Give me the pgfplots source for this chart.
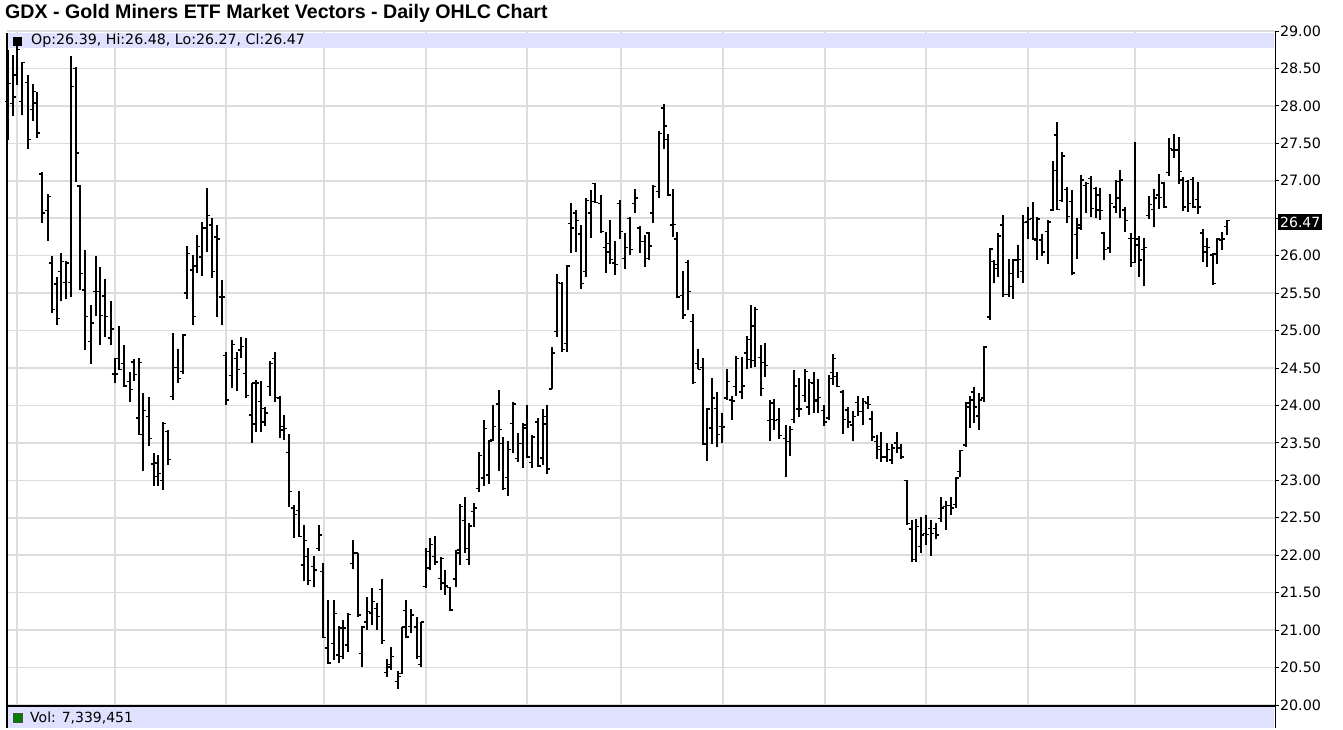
\documentclass[border=0pt]{standalone}
\usepackage{pgfplots}
\pgfplotsset{compat=1.18}
\usepackage{pgfplotstable}
\usepackage{fontspec}
\setmainfont{DejaVu Sans}
\newfontfamily\titlefont{Liberation Sans}
\definecolor{bandcol}{RGB}{224,224,255}
\definecolor{gridcol}{RGB}{221,221,221}
\definecolor{volgreen}{RGB}{0,128,0}

\pgfdeclareplotmark{ohlcopen}{%
  \pgfpathmoveto{\pgfqpoint{-3.4pt}{0pt}}%
  \pgfpathlineto{\pgfqpoint{0pt}{0pt}}%
  \pgfusepathqstroke}
\pgfdeclareplotmark{ohlcclose}{%
  \pgfpathmoveto{\pgfqpoint{0pt}{0pt}}%
  \pgfpathlineto{\pgfqpoint{3.4pt}{0pt}}%
  \pgfusepathqstroke}
\pgfdeclareplotmark{nothing}{}

% x = bar position (day slot), o h l c = open high low close
\pgfplotstableread{
x o h l c
8 28.06 28.75 27.54 28.30
13 28.03 28.68 27.86 28.12
17 28.41 28.81 28.28 28.75
22 28.06 28.59 27.88 28.58
28 28.31 28.41 27.42 27.55
33 27.95 28.29 27.80 28.19
37 28.04 28.19 27.57 27.64
42 27.09 27.12 26.44 26.57
48 26.60 26.83 26.20 26.79
52 25.90 26.00 25.23 25.28
57 25.62 25.72 25.08 25.16
61 25.79 26.03 25.39 25.92
66 25.64 25.93 25.42 25.90
71 25.64 28.66 25.45 28.26
76 28.50 28.52 26.98 27.37
80 26.93 26.94 25.54 25.76
85 25.54 26.07 24.74 25.19
91 24.85 25.34 24.56 25.10
96 25.52 26.00 25.19 25.52
100 25.52 25.85 24.81 25.20
105 25.46 25.69 24.92 25.19
111 24.90 25.39 24.81 25.02
115 24.42 24.64 24.30 24.42
119 24.63 25.06 24.47 24.48
124 24.56 24.81 24.24 24.26
130 24.32 24.45 24.04 24.21
134 24.58 24.62 24.33 24.41
139 23.83 24.64 23.61 24.57
143 23.61 24.16 23.12 23.93
149 23.85 24.11 23.46 23.56
154 23.22 23.36 22.92 23.05
158 23.23 23.34 22.92 23.09
163 23.00 23.78 22.87 23.76
168 23.65 23.67 23.21 23.28
173 24.12 24.97 24.07 24.51
178 24.51 24.76 24.30 24.36
183 24.45 24.96 24.42 24.94
187 25.50 26.13 25.42 26.03
193 25.81 26.01 25.07 25.19
197 25.86 26.28 25.77 26.12
202 25.98 26.45 25.73 26.37
207 26.37 26.91 26.05 26.54
212 26.41 26.50 25.70 25.79
217 26.25 26.41 25.18 26.22
222 25.45 25.68 25.07 25.45
226 24.67 24.72 24.01 24.07
232 24.40 24.87 24.23 24.81
237 24.63 24.71 24.19 24.48
241 24.74 24.91 24.64 24.79
246 24.43 24.90 24.10 24.13
252 23.87 24.30 23.50 24.30
256 23.75 24.34 23.65 24.30
261 24.05 24.32 23.65 23.78
265 23.96 23.98 23.73 23.90
270 24.25 24.59 24.12 24.56
275 24.63 24.71 24.04 24.11
280 24.10 24.13 23.56 23.67
284 23.72 23.87 23.54 23.69
289 23.37 23.62 22.65 22.85
294 22.63 22.67 22.23 22.54
299 22.60 22.86 22.24 22.25
304 21.87 22.40 21.65 22.20
308 21.98 22.09 21.60 21.66
314 21.85 21.99 21.58 21.80
319 22.09 22.40 22.05 22.27
323 21.78 21.89 20.89 20.90
328 20.76 21.40 20.55 20.56
334 20.82 21.40 20.60 21.22
339 20.67 21.05 20.56 21.03
343 20.65 21.13 20.61 21.03
348 20.80 21.23 20.71 21.21
353 21.89 22.20 21.81 22.03
358 22.03 22.03 21.18 21.20
362 20.69 21.06 20.51 21.04
367 21.11 21.44 21.00 21.25
372 21.23 21.56 21.07 21.38
377 21.29 21.36 21.00 21.18
382 21.54 21.68 20.82 20.86
387 20.43 20.62 20.38 20.51
391 20.54 20.78 20.47 20.65
398 20.31 20.45 20.22 20.38
402 20.42 21.04 20.42 21.04
406 21.26 21.40 20.89 20.91
411 21.05 21.28 20.96 21.20
417 21.04 21.18 20.62 20.65
421 20.54 21.11 20.51 21.11
426 21.58 22.09 21.56 22.05
430 21.83 22.23 21.80 22.14
435 21.98 22.25 21.87 21.91
441 21.69 21.98 21.53 21.96
445 21.63 21.80 21.47 21.59
450 21.57 21.58 21.26 21.27
456 21.68 22.07 21.57 22.03
460 22.07 22.68 21.87 22.65
465 22.46 22.78 22.03 22.09
469 21.94 22.43 21.87 22.39
474 22.58 22.70 22.38 22.63
479 22.89 23.38 22.85 23.33
484 23.03 23.81 22.92 23.69
489 23.07 23.54 22.95 23.52
493 23.54 24.01 23.52 23.72
499 24.02 24.21 23.12 23.68
503 23.49 23.58 22.87 22.89
508 23.04 23.52 22.79 23.41
513 23.76 24.04 23.36 24.02
518 23.29 23.63 23.25 23.49
523 23.49 23.76 23.17 23.74
527 23.70 24.01 23.30 23.31
532 23.24 23.61 23.16 23.58
538 23.78 23.83 23.18 23.19
543 23.30 23.95 23.20 23.85
547 23.75 24.00 23.08 23.15
552 24.22 24.78 24.22 24.70
557 24.99 25.76 24.92 25.64
562 25.63 25.65 24.72 24.75
567 24.83 25.88 24.72 25.86
571 26.43 26.70 26.04 26.37
576 26.57 26.61 26.05 26.47
581 26.29 26.41 25.56 25.63
586 25.79 26.77 25.71 26.74
591 26.57 26.88 26.23 26.72
595 26.96 26.97 26.70 26.71
601 26.70 26.81 26.30 26.32
606 26.11 26.32 25.77 26.05
610 26.16 26.47 25.89 25.95
615 25.90 26.20 25.74 25.88
620 26.70 26.74 26.22 26.32
625 25.96 26.30 25.82 26.11
630 26.50 26.52 26.01 26.08
635 26.70 26.89 26.57 26.77
640 26.37 26.39 26.03 26.19
645 26.19 26.28 25.85 25.96
649 26.30 26.32 25.94 26.13
653 26.57 26.94 26.44 26.92
659 26.86 27.66 26.77 27.63
664 27.97 28.03 27.42 27.73
668 27.55 27.62 26.80 26.81
673 26.41 26.89 26.25 26.42
677 26.22 26.32 25.43 25.45
683 25.47 25.79 25.16 25.21
688 25.91 25.94 25.28 25.52
693 25.12 25.22 24.29 24.31
698 24.56 24.75 24.48 24.48
703 24.51 24.63 23.47 23.49
707 23.48 23.97 23.26 23.95
712 23.70 24.36 23.49 24.10
717 23.96 24.18 23.44 23.61
722 23.72 23.90 23.50 23.71
727 24.10 24.48 24.07 24.32
732 24.07 24.12 23.81 24.06
736 24.25 24.66 24.13 24.63
742 24.18 24.65 24.08 24.26
747 24.70 24.93 24.48 24.88
751 24.61 25.34 24.50 25.06
755 24.60 25.31 24.51 25.28
761 24.64 24.81 24.12 24.23
765 24.57 24.84 24.38 24.53
770 23.80 24.07 23.52 24.03
774 23.81 24.08 23.67 23.80
779 23.81 23.96 23.55 23.60
786 23.56 23.74 23.04 23.52
790 23.52 23.72 23.33 23.68
794 23.81 24.47 23.76 24.26
799 23.95 24.36 23.84 23.95
805 24.13 24.48 24.04 24.45
809 23.98 24.35 23.87 24.31
814 24.30 24.45 23.90 24.07
818 24.05 24.35 23.90 24.11
824 23.93 24.01 23.73 23.78
829 23.83 24.41 23.80 24.36
833 24.44 24.69 24.27 24.63
837 24.39 24.45 24.24 24.25
843 24.18 24.21 23.62 23.81
848 23.94 23.98 23.70 23.78
853 23.74 23.93 23.52 23.85
858 24.04 24.12 23.86 23.92
863 23.92 24.10 23.74 24.05
868 24.03 24.13 23.95 24.01
872 23.82 23.93 23.52 23.58
877 23.52 23.61 23.28 23.45
881 23.41 23.64 23.25 23.31
887 23.31 23.50 23.24 23.41
892 23.27 23.49 23.22 23.43
897 23.50 23.64 23.36 23.43
901 23.43 23.49 23.29 23.31
907 23.00 23.01 22.41 22.42
912 22.35 22.47 21.91 21.94
916 21.94 22.48 21.91 22.38
921 22.12 22.51 22.03 22.27
926 22.29 22.54 22.14 22.28
931 22.36 22.47 21.99 22.29
936 22.36 22.43 22.21 22.27
941 22.49 22.78 22.44 22.63
946 22.65 22.72 22.34 22.66
951 22.66 22.78 22.54 22.63
956 22.68 23.05 22.63 23.03
960 23.12 23.41 23.05 23.40
966 23.47 24.05 23.45 24.03
970 23.98 24.12 23.70 24.07
974 24.18 24.25 23.77 23.98
979 23.86 24.17 23.67 24.07
984 24.10 24.79 24.05 24.78
990 25.18 26.10 25.14 26.09
994 25.92 25.94 25.63 25.83
998 25.88 26.30 25.72 26.26
1003 26.41 26.54 25.45 25.48
1009 25.48 25.96 25.45 25.76
1013 25.59 25.96 25.42 25.94
1018 25.94 26.14 25.70 25.95
1023 25.79 26.54 25.64 26.44
1028 26.45 26.65 26.22 26.48
1033 26.50 26.71 26.21 26.22
1037 26.21 26.51 25.94 26.49
1042 26.21 26.29 25.99 26.05
1048 26.32 26.47 25.89 26.45
1053 26.61 27.26 26.60 27.14
1057 27.61 27.79 26.61 26.62
1062 26.74 27.39 26.72 27.33
1067 26.88 26.92 26.43 26.52
1072 26.72 26.88 25.74 25.77
1077 26.28 26.50 25.96 26.41
1081 26.37 27.08 26.34 27.01
1086 26.94 26.99 26.57 26.96
1091 27.03 27.06 26.52 26.63
1096 26.90 26.92 26.50 26.81
1100 26.61 26.90 26.48 26.60
1104 26.30 26.32 25.94 26.08
1110 26.10 26.83 26.03 26.70
1116 26.65 27.01 26.57 26.99
1120 26.77 27.14 26.50 27.01
1125 26.61 26.65 26.32 26.47
1131 26.23 26.30 25.85 25.91
1135 26.23 27.52 25.90 26.22
1139 26.14 26.26 25.72 25.94
1144 26.08 26.23 25.59 26.11
1149 26.54 26.79 26.49 26.68
1154 26.62 26.89 26.38 26.77
1159 26.81 27.09 26.62 26.78
1164 26.97 26.98 26.63 26.65
1169 27.11 27.57 27.06 27.43
1174 27.41 27.63 27.30 27.41
1179 27.41 27.59 26.96 27.12
1183 27.01 27.05 26.59 26.65
1188 26.99 27.01 26.58 26.70
1193 27.02 27.05 26.63 26.65
1198 26.75 26.99 26.56 26.65
1203 26.30 26.36 25.92 26.05
1207 26.12 26.23 25.85 26.11
1213 26.01 26.03 25.61 25.63
1217 26.02 26.23 25.89 26.22
1222 26.21 26.32 26.08 26.22
1227 26.39 26.48 26.27 26.47
}\ohlc

\begin{document}
\begin{tikzpicture}[x=1pt,y=1pt]
\useasboundingbox (0,0) rectangle (1343,730);
\fill[white] (0,0) rectangle (1343,730);
\begin{axis}[
  at={(7pt,25pt)}, anchor=south west,
  scale only axis, width=1268pt, height=674pt,
  xmin=7, xmax=1275, ymin=20, ymax=29,
  axis line style={draw=none},
  xtick={17,115,226,324,426,527,621,723,825,926,1028,1135},
  xticklabels={},
  xtick style={draw=none},
  ytick={20,20.5,21,21.5,22,22.5,23,23.5,24,24.5,25,25.5,26,26.5,27,27.5,28,28.5,29},
  yticklabels={20.00,20.50,21.00,21.50,22.00,22.50,23.00,23.50,24.00,24.50,25.00,25.50,26.00,,27.00,27.50,28.00,28.50,29.00},
  ytick pos=right, yticklabel pos=right,
  tick align=outside, major tick length=4pt,
  ytick style={black, line width=0.8pt},
  xmajorgrids, ymajorgrids,
  grid style={gridcol, line width=1.5pt},
  yticklabel style={font=\fontsize{14.3}{16}\selectfont, anchor=west, xshift=-2.5pt},
  clip=false,
]
\fill[bandcol] (axis cs:8,28.773) rectangle (axis cs:1274,28.975);
\addplot[only marks, mark=nothing, black, forget plot,
  error bars/.cd, y dir=plus, y explicit, error mark=none,
  error bar style={black, line width=1.8pt}]
  table[x=x, y=l, y error plus expr=\thisrow{h}-\thisrow{l}] {\ohlc};
\addplot[only marks, mark=ohlcopen, mark options={black, line width=1.4pt}, forget plot]
  table[x=x, y=o] {\ohlc};
\addplot[only marks, mark=ohlcclose, mark options={black, line width=1.4pt}, forget plot]
  table[x=x, y=c] {\ohlc};
\end{axis}
% frame lines
\draw[black, line width=1.2pt] (7,2) -- (7,697);
\draw[black, line width=1pt] (1275,2) -- (1275,699);
% volume pane strip
\fill[bandcol] (8,2) rectangle (1274,22.5);
\draw[black, line width=2.5pt] (7,24) -- (1275,24);
\fill[volgreen] (13,8) rectangle (22,17);
\draw[black!70, line width=0.6pt] (13,8) rectangle (22,17);
\node[anchor=base west, inner sep=0pt, font=\fontsize{14}{16}\selectfont] at (30,7) {Vol: 7,339,451};
% header
\fill[black] (13,684) rectangle (22,693);
\node[anchor=base west, inner sep=0pt, font=\fontsize{14.2}{16}\selectfont] at (31,685) {Op:26.39, Hi:26.48, Lo:26.27, Cl:26.47};
% last price box
\node[fill=black, text=white, anchor=west, inner xsep=2pt, inner ysep=0pt, minimum height=16pt,
  font=\fontsize{14}{16}\selectfont] at (1278,508) {26.47};
% title
\node[anchor=base west, inner sep=0pt, font=\titlefont\bfseries\fontsize{19.6}{22}\selectfont] at (5,711)
  {GDX - Gold Miners ETF Market Vectors - Daily OHLC Chart};
\end{tikzpicture}
\end{document}
